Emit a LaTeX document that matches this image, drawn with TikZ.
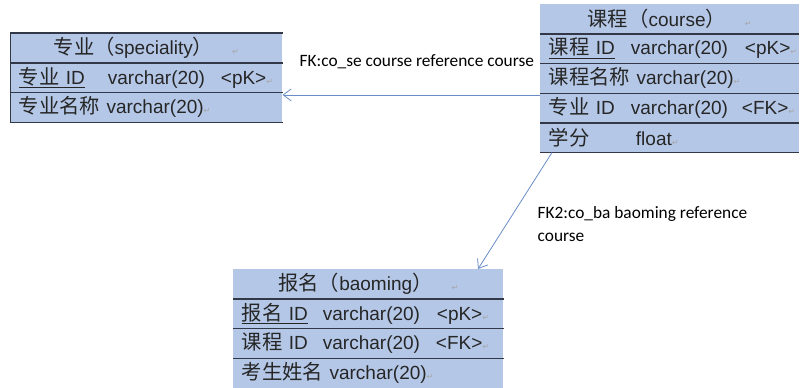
\documentclass[tikz,border=0pt]{standalone}
\usepackage{fontspec}
\setmainfont{Liberation Sans}
\newfontfamily\cjk[Scale=1.07]{Noto Sans CJK SC}
\newfontfamily\lblfont{Carlito}
\newfontfamily\symfont{DejaVu Sans}
\usetikzlibrary{arrows.meta}

\definecolor{rowfill}{RGB}{180,199,231}
\definecolor{rowline}{RGB}{50,56,72}
\definecolor{fkline}{RGB}{105,140,200}
\newcommand{\pmk}{{\symfont\fontsize{6}{6}\selectfont\color{black!35}↵}}
\newcommand{\fld}[2]{\makebox[#1][l]{#2}}

\begin{document}
\begin{tikzpicture}[x=0.75pt,y=-0.75pt,
    every node/.style={font=\fontsize{14.25}{16}\selectfont, text=black!85},
    row/.style={fill=rowfill, anchor=north west, inner xsep=6.5pt, inner ysep=0pt,
      minimum height=22.2pt, text width=#1, align=left},
    hd/.style={row=#1, align=center},
    sep/.style={draw=rowline, line width=1.1pt},
    fk/.style={draw=fkline, line width=0.6pt, -{Straight Barb[length=6pt,width=9pt]}},
    lbl/.style={font=\lblfont\fontsize{13}{17}\selectfont, text=black}]
   \useasboundingbox (0,0) rectangle (800,387);

   % speciality
   \node[hd=191pt]  (spec-h) at (10,33)   {{\cjk 专业（}speciality{\cjk ）}\quad\pmk};
   \node[row=191pt] (spec-1) at (10,62.6) {\fld{66.75pt}{\underline{{\cjk 专业} ID}}\fld{84.75pt}{varchar(20)}<pK>\pmk};
   \node[row=191pt] (spec-2) at (10,92.2) {{\cjk 专业名称} varchar(20)\pmk};

   % course
   \node[hd=181pt]  (crs-h) at (540,4)     {{\cjk 课程（}course{\cjk ）}\quad\pmk};
   \node[row=181pt] (crs-1) at (540,33.6)  {\fld{61.5pt}{\underline{{\cjk 课程} ID}}\fld{85.5pt}{varchar(20)}<pK>\pmk};
   \node[row=181pt] (crs-2) at (540,63.2)  {{\cjk 课程名称} varchar(20)\pmk};
   \node[row=181pt] (crs-3) at (540,92.8)  {\fld{61.5pt}{{\cjk 专业} ID}\fld{83.25pt}{varchar(20)}<FK>\pmk};
   \node[row=181pt] (crs-4) at (540,122.4) {\fld{65.25pt}{\cjk 学分}float\pmk};

   % baoming
   \node[hd=189.5pt]  (bm-h) at (233,269)   {{\cjk 报名（}baoming{\cjk ）}\quad\pmk};
   \node[row=189.5pt] (bm-1) at (233,298.6) {\fld{60.75pt}{\underline{{\cjk 报名} ID}}\fld{85.5pt}{varchar(20)}<pK>\pmk};
   \node[row=189.5pt] (bm-2) at (233,328.2) {\fld{60.75pt}{{\cjk 课程} ID}\fld{84.75pt}{varchar(20)}<FK>\pmk};
   \node[row=189.5pt] (bm-3) at (233,357.8) {{\cjk 考生姓名} varchar(20)\pmk};

   \foreach \n in {spec-h,spec-1,spec-2,crs-h,crs-1,crs-2,crs-3,crs-4,bm-h,bm-1,bm-2}
     \draw[sep] (\n.south west) -- (\n.south east);
   \draw[sep] (spec-h.north west) -- (spec-h.north east);
   \draw[rowline, line width=0.6pt] (spec-h.north west) -- (spec-2.south west);

   % foreign keys
   \coordinate (fk1a) at ([yshift=-1.6pt]crs-3.north west);
   \coordinate (fk1b) at (spec-2.east |- fk1a);
   \coordinate (fk2a) at ([xshift=9pt]crs-4.south west);
   \coordinate (fk2b) at ([xshift=183.75pt]bm-h.north west);
   \path[fk] (fk1a) -- (fk1b);
   \path[fk] (fk2a) -- (fk2b);

   \node[lbl, anchor=west] (fk1t) at (295,62) {FK:co\_se course reference course};
   \node[lbl, anchor=north west, align=left] (fk2t) at (533,202) {FK2:co\_ba baoming reference\\course};

\end{tikzpicture}
\end{document}
